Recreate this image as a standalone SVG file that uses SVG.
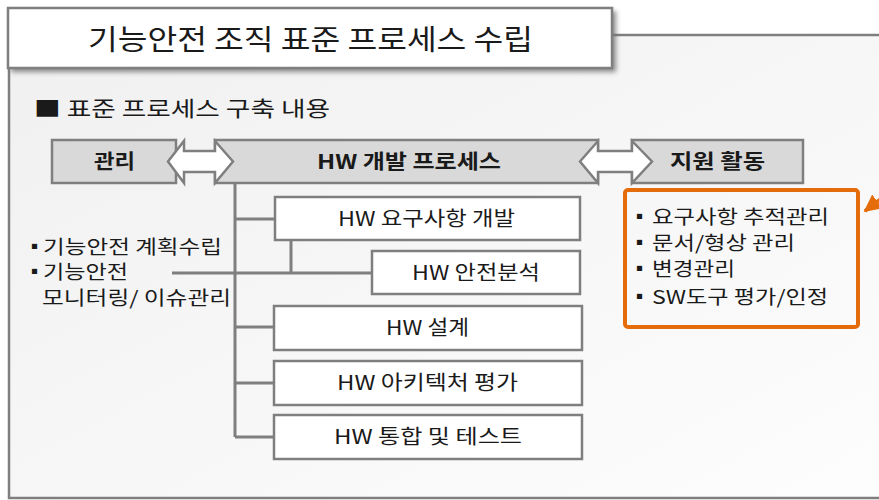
<svg xmlns="http://www.w3.org/2000/svg" width="879" height="500" viewBox="0 0 879 500">
<defs>
<linearGradient id="bg" x1="0" y1="0" x2="1" y2="1">
<stop offset="0" stop-color="#f0f0f0"/>
<stop offset="1" stop-color="#fdfdfd"/>
</linearGradient>
<filter id="sh" x="-5%" y="-20%" width="110%" height="140%">
<feGaussianBlur stdDeviation="2.5"/>
</filter>
<marker id="oh" viewBox="0 0 10 10" refX="9" refY="5" markerWidth="5" markerHeight="5" orient="auto">
<path d="M0,0 L10,5 L0,10 z" fill="#e46c0a"/>
</marker>
<style>
text{font-family:"Noto Sans CJK KR","Malgun Gothic","Noto Sans",sans-serif;fill:#1a1a1a}
.gbox{fill:#d9d9d9;stroke:#7f7f7f;stroke-width:2.5}
.wbox{fill:#ffffff;stroke:#7f7f7f;stroke-width:2.5}
.bold{font-weight:bold;font-size:20px}
.lbl{font-size:20px}
.lst{font-size:19px}
.bul{font-size:19px}
.conn{stroke:#7f7f7f;stroke-width:3;fill:none}
.dbl{fill:#ffffff;stroke:#7f7f7f;stroke-width:2.5;stroke-linejoin:miter}
</style>
</defs>
<rect x="0" y="0" width="879" height="500" fill="#ffffff"/>
<rect x="9" y="35" width="880" height="463" fill="url(#bg)" stroke="#7f7f7f" stroke-width="2.5"/>
<g id="title">
<rect x="11" y="11" width="605" height="61" fill="#6f6f6f" opacity="0.8" filter="url(#sh)"/>
<rect x="8" y="8" width="604" height="60" fill="#ffffff" stroke="#7f7f7f" stroke-width="2.5"/>
<text x="88" y="50" font-size="28" textLength="445" lengthAdjust="spacingAndGlyphs">기능안전 조직 표준 프로세스 수립</text>
</g>
<g id="subtitle">
<text x="34" y="116" font-size="21" textLength="296" lengthAdjust="spacingAndGlyphs">■ 표준 프로세스 구축 내용</text>
</g>
<g id="connectors">
<line class="conn" x1="235" y1="183" x2="235" y2="437"/>
<line class="conn" x1="235" y1="219" x2="275" y2="219"/>
<line class="conn" x1="291" y1="240" x2="291" y2="273"/>
<line class="conn" x1="172" y1="273" x2="372" y2="273"/>
<line class="conn" x1="235" y1="327" x2="274" y2="327"/>
<line class="conn" x1="235" y1="383" x2="274" y2="383"/>
<line class="conn" x1="235" y1="437" x2="274" y2="437"/>
<line x1="882" y1="198" x2="865" y2="211" stroke="#e46c0a" stroke-width="3.5" marker-end="url(#oh)"/>
</g>
<g id="mgmt">
<rect class="gbox" x="52" y="140" width="124" height="43"/>
<text class="bold" x="94" y="169" textLength="41" lengthAdjust="spacingAndGlyphs">관리</text>
</g>
<g id="hwproc">
<rect class="gbox" x="215" y="140" width="383" height="43"/>
<text class="bold" x="317" y="169" textLength="184" lengthAdjust="spacingAndGlyphs">HW 개발 프로세스</text>
</g>
<g id="support">
<rect class="gbox" x="632" y="140" width="171" height="43"/>
<text class="bold" x="670" y="169" textLength="95" lengthAdjust="spacingAndGlyphs">지원 활동</text>
</g>
<g id="arrow1">
<polygon class="dbl" points="168,161.5 184,141 184,151 215,151 215,141 233,161.5 215,183 215,172 184,172 184,183"/>
</g>
<g id="arrow2">
<polygon class="dbl" points="580,161.5 598,141 598,151 632,151 632,141 652,161.5 632,183 632,172 598,172 598,183"/>
</g>
<g id="n-req">
<rect class="wbox" x="275" y="197" width="305" height="43"/>
<text class="lbl" x="338" y="226" textLength="177" lengthAdjust="spacingAndGlyphs">HW 요구사항 개발</text>
</g>
<g id="n-safety">
<rect class="wbox" x="372" y="251" width="208" height="43"/>
<text class="lbl" x="412" y="280" textLength="128" lengthAdjust="spacingAndGlyphs">HW 안전분석</text>
</g>
<g id="n-design">
<rect class="wbox" x="274" y="306" width="308" height="44"/>
<text class="lbl" x="386" y="335" textLength="83" lengthAdjust="spacingAndGlyphs">HW 설계</text>
</g>
<g id="n-arch">
<rect class="wbox" x="274" y="361" width="308" height="44"/>
<text class="lbl" x="337" y="390" textLength="181" lengthAdjust="spacingAndGlyphs">HW 아키텍처 평가</text>
</g>
<g id="n-integ">
<rect class="wbox" x="274" y="415" width="308" height="44"/>
<text class="lbl" x="334" y="444" textLength="188" lengthAdjust="spacingAndGlyphs">HW 통합 및 테스트</text>
</g>
<g id="left-list">
<text class="lst" x="25" y="254"><tspan class="bul">▪</tspan><tspan x="43" textLength="179" lengthAdjust="spacingAndGlyphs">기능안전 계획수립</tspan></text>
<text class="lst" x="25" y="279"><tspan class="bul">▪</tspan><tspan x="43" textLength="85" lengthAdjust="spacingAndGlyphs">기능안전</tspan></text>
<text class="lst" x="42" y="305" textLength="189" lengthAdjust="spacingAndGlyphs">모니터링/ 이슈관리</text>
</g>
<g id="support-list">
<rect x="625" y="190" width="233" height="137" rx="3" fill="none" stroke="#e46c0a" stroke-width="4"/>
<text class="lst" x="630" y="224"><tspan class="bul">▪</tspan><tspan x="652" textLength="177" lengthAdjust="spacingAndGlyphs">요구사항 추적관리</tspan></text>
<text class="lst" x="630" y="250"><tspan class="bul">▪</tspan><tspan x="652" textLength="143" lengthAdjust="spacingAndGlyphs">문서/형상 관리</tspan></text>
<text class="lst" x="630" y="276"><tspan class="bul">▪</tspan><tspan x="652" textLength="83" lengthAdjust="spacingAndGlyphs">변경관리</tspan></text>
<text class="lst" x="630" y="304"><tspan class="bul">▪</tspan><tspan x="652" textLength="176" lengthAdjust="spacingAndGlyphs">SW도구 평가/인정</tspan></text>
</g>
</svg>
